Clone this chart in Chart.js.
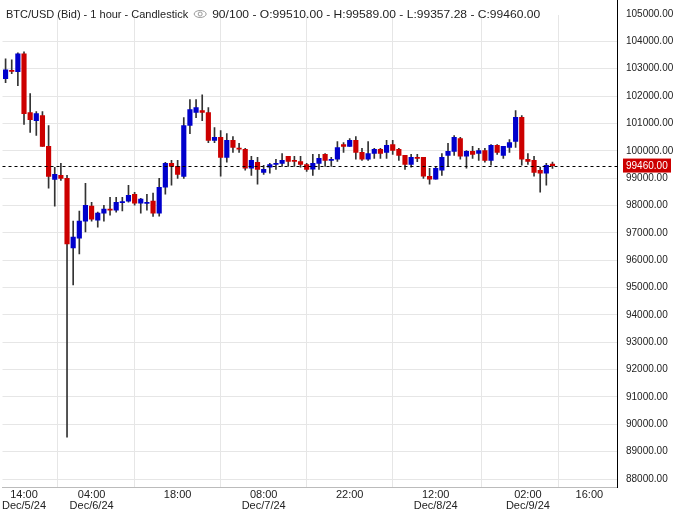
<!DOCTYPE html>
<html><head><meta charset="utf-8">
<script src="https://cdn.jsdelivr.net/npm/chart.js@4/dist/chart.umd.min.js"></script>
<style>html,body{margin:0;padding:0;background:#fff}#w{width:685px;height:510px}</style>
</head><body><div id="w"><canvas id="c"></canvas></div>
<script>
const opens=[102634,102940,102889,103544,101396,101105,101287,100159,98950,99103,98994,96446,96810,97430,97975,97466,97720,97866,97830,98100,98160,98410,98084,98080,98160,97720,98666,99540,99430,99067,100923,101400,101470,101400,100380,100490,99760,100380,100100,100050,99360,99580,99210,99400,99500,99540,99800,99650,99610,99500,99330,99540,99870,99650,99690,100230,100160,100380,99940,99690,99900,100050,99940,100230,100050,99830,99500,99760,99760,99070,98960,99290,99830,99980,100450,99800,99980,99900,100010,99650,100200,99830,100120,100340,101220,99690,99650,99290,99180,99510];
const highs=[103362,103325,103580,103617,102088,101433,101433,100923,99394,99540,99103,97429,97800,98812,98120,97760,98010,98300,98300,98300,98740,98484,98266,98410,98450,98994,99576,99650,99650,101215,101870,101870,102050,101580,100850,100740,100630,100520,100270,100090,99800,99760,99470,99540,99690,99900,99800,99800,99800,99540,99870,99870,99900,99760,100340,100300,100450,100520,100090,100340,100090,100090,100380,100380,100090,99830,99870,99870,99760,99360,99430,99900,100270,100560,100490,100010,100160,100090,100090,100230,100230,100160,100410,101470,101290,99900,99800,99400,99540,99589];
const lows=[102488,102816,102380,100960,100668,100559,100160,98630,97975,98921,89530,95100,96228,97030,97430,97210,97430,97650,97760,97800,98120,98010,97720,97830,97600,97610,98410,98740,98994,98994,100630,101215,101105,100300,100300,99070,99580,99940,99940,99290,99100,98780,99140,99180,99320,99430,99430,99430,99400,99250,99100,99320,99430,99430,99610,99940,100160,99690,99650,99650,99720,99720,99720,99870,99650,99320,99400,99600,98990,98780,98960,99100,99430,99830,99690,99360,99720,99650,99580,99470,99870,99720,99940,100120,99470,99500,99070,98490,98740,99357.28];
const closes=[102961,102900,103544,101360,101142,101360,100159,99067,99140,98994,96592,96846,97430,98010,97500,97720,97866,97830,98120,98140,98375,98084,98230,98120,97720,98666,99540,99430,99140,100923,101506,101580,101400,100380,100490,99760,100380,100120,100060,99360,99650,99320,99320,99500,99540,99650,99610,99610,99500,99320,99540,99720,99650,99690,100120,100160,100380,99940,99690,99900,100050,99900,100200,100010,99830,99500,99760,99720,99070,98960,99360,99760,99980,100490,99800,99980,99870,100010,99650,100200,99940,100160,100300,101220,99690,99610,99210,99180,99470,99460];
const xTickIdx=[3,14,28,42,56,70,85,95];
const xTickTop=['14:00','04:00','18:00','08:00','22:00','12:00','02:00','16:00'];
const xTickBottom=['Dec/5/24','Dec/6/24','','Dec/7/24','','Dec/8/24','Dec/9/24',''];
const yTicks=[];for(let v=88000;v<=105000;v+=1000)yTicks.push(v);
const lastPrice=99460;
const titleText='BTC/USD (Bid) - 1 hour - Candlestick';
const titleText2='90/100 - O:99510.00 - H:99589.00 - L:99357.28 - C:99460.00';

const BLUE='#0000cc',RED='#cc0000';
const bodies=opens.map((o,i)=>({x:i,y:[o,closes[i]===o?o+15:closes[i]]}));
const wicks=lows.map((l,i)=>({x:i,y:[l,highs[i]]}));
const colors=opens.map((o,i)=>closes[i]>=o?BLUE:RED);
const FONT='"Liberation Sans", Arial';

const overlay={id:'ov',afterDatasetsDraw(ch){
  const c=ch.ctx,a=ch.chartArea,ys=ch.scales.y,y=ys.getPixelForValue(lastPrice);
  c.save();
  c.strokeStyle='#000';c.lineWidth=1;c.setLineDash([3,3]);
  c.beginPath();c.moveTo(a.left,Math.round(y)+0.5);c.lineTo(a.right,Math.round(y)+0.5);c.stroke();
  c.setLineDash([]);
  c.fillStyle=RED;c.fillRect(a.right+6,y-7,48,14);
  c.fillStyle='#fff';c.font='10px '+FONT;c.textBaseline='middle';
  c.fillText(lastPrice.toFixed(2),a.right+9,y+0.5);
  c.fillStyle='#222';
  const yTop=ys.getPixelForValue(yTicks[yTicks.length-1]);
  c.fillText(yTicks[yTicks.length-1].toFixed(2),a.right+9,yTop);
  c.strokeStyle='#000';c.beginPath();c.moveTo(a.right+0.5,0);c.lineTo(a.right+0.5,a.top);c.stroke();
  c.textBaseline='alphabetic';c.font='11px '+FONT;
  c.fillText(titleText,6,18);
  const w=c.measureText(titleText).width;
  const ex=6+w+12;
  c.strokeStyle='#999';c.lineWidth=1;
  c.beginPath();c.ellipse(ex,14,6,3.5,0,0,Math.PI*2);c.stroke();
  c.beginPath();c.arc(ex,14,2,0,Math.PI*2);c.stroke();
  const w2=c.measureText(titleText2).width;
  c.translate(ex+12,18);c.scale(328/w2,1);
  c.fillText(titleText2,0,0);
  c.restore();
}};

new Chart(document.getElementById('c'),{
  type:'bar',
  data:{datasets:[
    {data:wicks,backgroundColor:'#333',barThickness:1,grouped:false,order:2},
    {data:bodies,backgroundColor:colors,barThickness:4.5,grouped:false,order:1}
  ]},
  options:{
    responsive:true,maintainAspectRatio:false,animation:false,
    layout:{padding:0},
    plugins:{legend:{display:false},tooltip:{enabled:false}},
    scales:{
      x:{type:'linear',min:-0.5,max:99.5,offset:false,
        afterBuildTicks(s){s.ticks=xTickIdx.map(v=>({value:v}));},
        ticks:{autoSkip:false,maxRotation:0,padding:2,color:'#222',font:{family:FONT,size:11,lineHeight:1.0},
          callback(v){const k=xTickIdx.indexOf(v);return k<0?'':(xTickBottom[k]?[xTickTop[k],xTickBottom[k]]:[xTickTop[k],'']);}},
        grid:{color:'#e6e6e6',drawTicks:false},border:{color:'#bbb'},
        afterFit(s){s.height=23;}
      },
      y:{position:'right',min:87709,max:104964,
        afterBuildTicks(s){s.ticks=yTicks.filter(v=>v<=104964).map(v=>({value:v}));},
        ticks:{padding:9,color:'#222',font:{family:FONT,size:10},callback:v=>v.toFixed(2)},
        grid:{color:'#e6e6e6',drawTicks:false},border:{color:'#000'},
        afterFit(s){s.width=68;}
      }
    }
  },
  plugins:[overlay]
});
</script></body></html>
